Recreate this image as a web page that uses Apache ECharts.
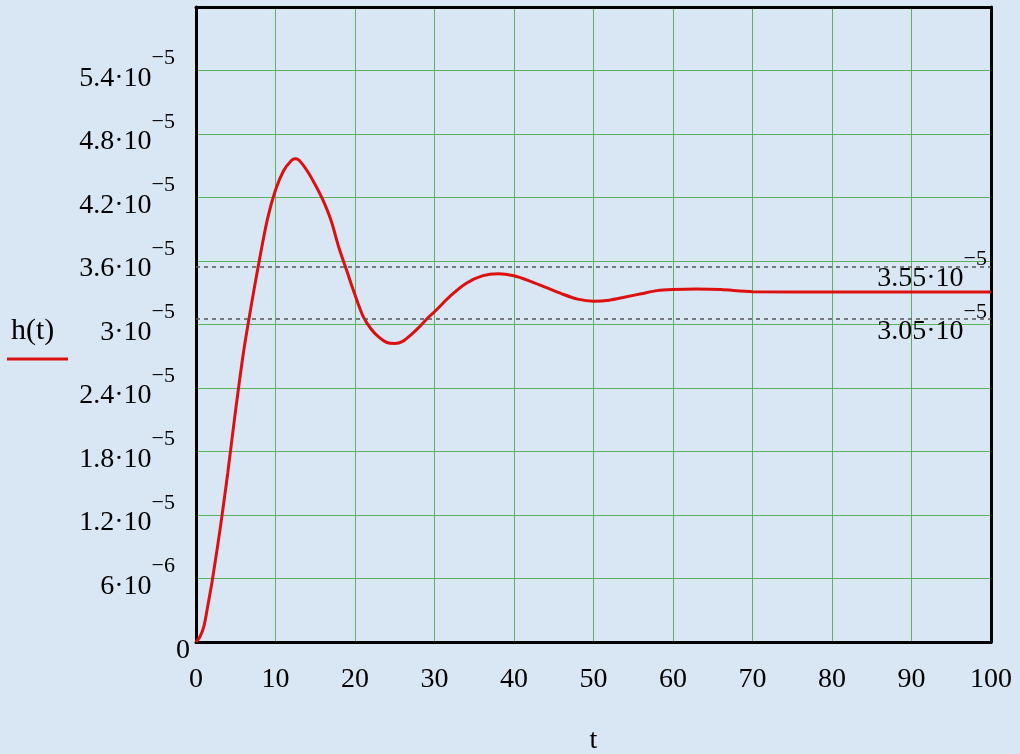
<!DOCTYPE html>
<html>
<head>
<meta charset="utf-8">
<title>h(t)</title>
<script src="https://cdn.jsdelivr.net/npm/echarts@6/dist/echarts.min.js"></script>
<style>
  html, body { margin: 0; padding: 0; background: #d9e6f4; }
  #chart { width: 1020px; height: 754px; }
</style>
</head>
<body>
<div id="chart"></div>
<script>
// step response
const tValues = [0, 0.5, 1, 1.5, 2, 2.5, 3, 3.5, 4, 5, 6, 7, 8, 9, 10, 11, 12, 12.5, 13, 14, 15, 16, 17, 18, 19, 20,
  21, 22, 23, 24, 25, 26, 27, 28, 29, 30, 32, 34, 36, 38, 40, 42, 44, 46, 48, 50, 52, 54, 56, 58, 60, 63, 66, 70, 80, 90, 100];
const hValues = [0, 0.05, 0.15, 0.35, 0.56, 0.8, 1.05, 1.32, 1.6, 2.2, 2.75, 3.2, 3.62, 4.0, 4.27, 4.45, 4.55, 4.565, 4.55, 4.45, 4.32, 4.17, 3.98, 3.72, 3.5, 3.28,
  3.08, 2.96, 2.88, 2.83, 2.82, 2.84, 2.9, 2.97, 3.05, 3.12, 3.27, 3.39, 3.46, 3.48, 3.46, 3.41, 3.35, 3.29, 3.24, 3.22, 3.23, 3.26, 3.29, 3.32, 3.33, 3.335, 3.33, 3.31, 3.308, 3.308, 3.308]
  .map(v => v * 1e-5);
const bandLevels = [3.55e-5, 3.05e-5];
const xRange = [0, 100], xStep = 10;
const yRange = [0, 6e-5], yStep = 6e-6;

const serif = '"Liberation Serif", "DejaVu Serif", serif';
const frame = { show: true, onZero: false, lineStyle: { color: '#000', width: 3 } };

function sci(v) {
  const parts = Number(v.toPrecision(6)).toExponential().split('e');
  return { m: parts[0], e: parts[1].replace('-', '\u2212') };
}

const chart = echarts.init(document.getElementById('chart'));
const option = {
  backgroundColor: '#d9e6f4',
  animation: false,
  grid: { left: 196, right: 29, top: 7, bottom: 112, outerBoundsMode: 'none' },
  xAxis: [{
    type: 'value', min: xRange[0], max: xRange[1], interval: xStep,
    name: 't', nameLocation: 'middle', nameGap: 85,
    nameTextStyle: { fontFamily: serif, fontSize: 28, color: '#000' },
    axisLine: frame, axisTick: { show: false },
    axisLabel: { fontFamily: serif, fontSize: 28, color: '#000', margin: 24 },
    splitLine: { showMinLine: false, showMaxLine: false, lineStyle: { color: '#5db35d', width: 1 } }
  }, {
    type: 'value', position: 'top', min: xRange[0], max: xRange[1],
    axisLine: frame, axisTick: { show: false }, axisLabel: { show: false }, splitLine: { show: false }
  }],
  yAxis: [{
    type: 'value', min: yRange[0], max: yRange[1], interval: yStep,
    axisLine: frame, axisTick: { show: false },
    axisLabel: {
      margin: 6, showMaxLabel: false, color: '#000',
      formatter: function (v) {
        if (v === 0) return '{z|0}';
        const s = sci(v);
        return '{m|' + s.m + '\u00b710}{s|' + s.e + '}';
      },
      rich: {
        z: { fontFamily: serif, fontSize: 28, color: '#000', padding: [18, 0, 0, 0] },
        m: { fontFamily: serif, fontSize: 28, lineHeight: 28, color: '#000', padding: [16, 0, 0, 0] },
        s: { fontFamily: serif, fontSize: 22, lineHeight: 22, color: '#000', padding: [0, 15, 24, 0] }
      }
    },
    splitLine: { showMinLine: false, showMaxLine: false, lineStyle: { color: '#5db35d', width: 1 } }
  }, {
    type: 'value', position: 'right', min: yRange[0], max: yRange[1],
    axisLine: frame, axisTick: { show: false }, axisLabel: { show: false }, splitLine: { show: false }
  }],
  series: [{
    name: 'h(t)',
    type: 'line',
    data: tValues.map((t, i) => [t, hValues[i]]),
    showSymbol: false,
    smooth: 0.3,
    lineStyle: { color: '#dd1010', width: 3 },
    markLine: {
      silent: true,
      symbol: 'none',
      precision: 12,
      lineStyle: { color: '#555', type: [4, 4], width: 1.5 },
      label: {
        position: 'insideEndBottom',
        distance: [4, -10],
        formatter: function (p) {
          const s = sci(p.value);
          return '{m|' + s.m + '\u00b710}{s|' + s.e + '}';
        },
        rich: {
          m: { fontFamily: serif, fontSize: 28, lineHeight: 28, color: '#000', padding: [16, 0, 0, 0] },
          s: { fontFamily: serif, fontSize: 22, lineHeight: 22, color: '#000', padding: [0, 0, 22, 0] }
        }
      },
      data: bandLevels.map(v => ({ yAxis: v }))
    }
  }],
  graphic: [
    { type: 'text', left: 11, top: 316, style: { text: 'h(t)', font: '30px ' + serif, fill: '#000' } },
    { type: 'line', shape: { x1: 7, y1: 359, x2: 68, y2: 359 }, style: { stroke: '#dd1010', lineWidth: 3 } }
  ]
};
chart.setOption(option);
</script>
</body>
</html>
